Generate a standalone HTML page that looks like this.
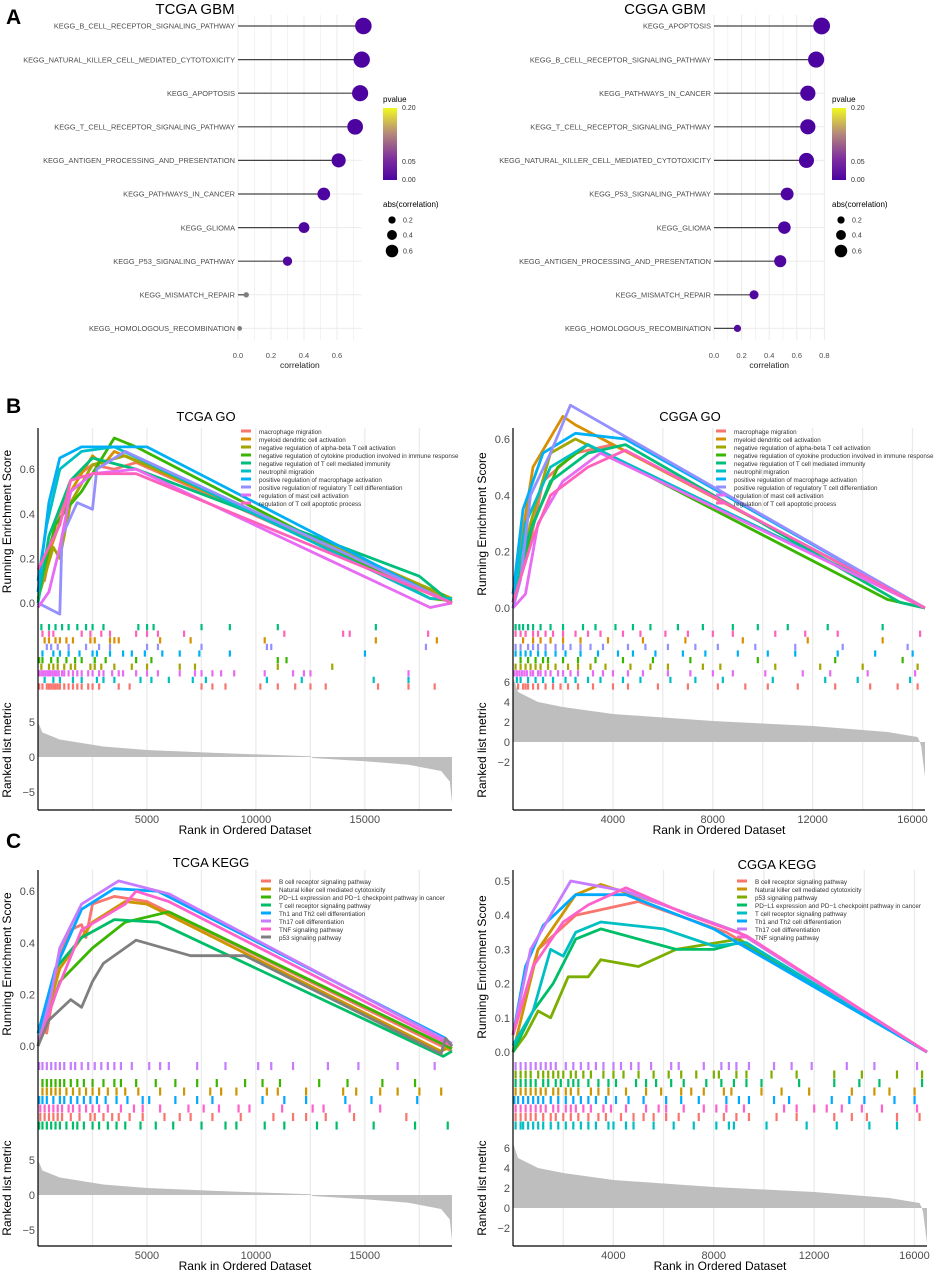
<!DOCTYPE html>
<html><head><meta charset="utf-8"><style>
body{margin:0;background:#fff}
svg{display:block;font-family:"Liberation Sans",Arial,sans-serif}
</style></head><body>
<svg id="fig" width="948" height="1273" viewBox="0 0 948 1273" xmlns="http://www.w3.org/2000/svg">
<text x="6" y="24" font-size="21" font-weight="bold">A</text>
<text x="6" y="413" font-size="21" font-weight="bold">B</text>
<text x="6" y="848" font-size="21" font-weight="bold">C</text>
</svg>
<script>
// ---------- Panel A data ----------
const aLeftNames=["KEGG_B_CELL_RECEPTOR_SIGNALING_PATHWAY","KEGG_NATURAL_KILLER_CELL_MEDIATED_CYTOTOXICITY","KEGG_APOPTOSIS","KEGG_T_CELL_RECEPTOR_SIGNALING_PATHWAY","KEGG_ANTIGEN_PROCESSING_AND_PRESENTATION","KEGG_PATHWAYS_IN_CANCER","KEGG_GLIOMA","KEGG_P53_SIGNALING_PATHWAY","KEGG_MISMATCH_REPAIR","KEGG_HOMOLOGOUS_RECOMBINATION"];
const aLeftCorr=[0.76,0.75,0.74,0.71,0.61,0.52,0.40,0.30,0.05,0.01];
const aLeftP=[0.001,0.001,0.001,0.001,0.001,0.002,0.003,0.005,null,null];
const aRightNames=["KEGG_APOPTOSIS","KEGG_B_CELL_RECEPTOR_SIGNALING_PATHWAY","KEGG_PATHWAYS_IN_CANCER","KEGG_T_CELL_RECEPTOR_SIGNALING_PATHWAY","KEGG_NATURAL_KILLER_CELL_MEDIATED_CYTOTOXICITY","KEGG_P53_SIGNALING_PATHWAY","KEGG_GLIOMA","KEGG_ANTIGEN_PROCESSING_AND_PRESENTATION","KEGG_MISMATCH_REPAIR","KEGG_HOMOLOGOUS_RECOMBINATION"];
const aRightCorr=[0.78,0.74,0.68,0.68,0.67,0.53,0.51,0.48,0.29,0.17];
const aRightP=[0.001,0.001,0.001,0.001,0.001,0.002,0.002,0.003,0.005,0.008];
const aLeftTicks=[0,0.2,0.4,0.6];
const aRightTicks=[0,0.2,0.4,0.6,0.8];

// ---------- GSEA data ----------
const rankTCGA=[0,200,1000,3000,5000,8000,12500,12600,15000,17000,18500,18900,19000];
const metricTCGA=[5,3.5,2.5,1.5,1,0.6,0.1,-0.15,-0.6,-1.1,-2,-3.5,-6.5];
const rankCGGA=[0,200,1000,2000,4000,8000,12000,15000,16200,16300,16350,16500];
const metricCGGA=[6.5,5,4,3.5,2.8,2.1,1.6,1,0.5,0,-0.5,-3.5];

const goNames=["macrophage migration","myeloid dendritic cell activation","negative regulation of alpha-beta T cell activation","negative regulation of cytokine production involved in immune response","negative regulation of T cell mediated immunity","neutrophil migration","positive regulation of macrophage activation","positive regulation of regulatory T cell differentiation","regulation of mast cell activation","regulation of T cell apoptotic process"];
const goColors=["#F8766D","#D89000","#A3A500","#39B600","#00BF7D","#00BFC4","#00B0F6","#9590FF","#E76BF3","#FF62BC"];
const bLeftES=[
[[0,0.12],[300,0.1],[800,0.35],[1500,0.55],[2500,0.62],[3500,0.6],[4500,0.63],[19000,0.0]],
[[0,0.05],[600,0.25],[1500,0.5],[2500,0.66],[3000,0.62],[3500,0.68],[19000,0.01]],
[[0,0.02],[700,0.25],[1000,0.2],[1500,0.45],[2500,0.62],[4000,0.66],[19000,0.02]],
[[0,0.05],[800,0.35],[1300,0.42],[2000,0.5],[3500,0.74],[4500,0.7],[18000,0.02],[19000,0.01]],
[[0,0.0],[500,0.3],[1500,0.55],[2500,0.65],[4500,0.6],[17500,0.12],[19000,0.0]],
[[0,0.1],[400,0.35],[1000,0.6],[2000,0.68],[3500,0.7],[18000,0.02],[19000,0.02]],
[[0,0.05],[500,0.45],[1000,0.65],[2000,0.7],[5000,0.7],[18500,0.02],[19000,0.0]],
[[0,0.0],[1000,-0.05],[1100,0.3],[1800,0.45],[2500,0.42],[2700,0.6],[4000,0.68],[19000,0.0]],
[[0,-0.02],[500,0.05],[1000,0.25],[1500,0.5],[2500,0.58],[4500,0.6],[18000,-0.02],[19000,0.0]],
[[0,0.15],[500,0.25],[1000,0.35],[1500,0.55],[2500,0.58],[4500,0.58],[19000,0.0]]];
const bRightES=[
[[0,0.05],[600,0.2],[1200,0.45],[2500,0.55],[4000,0.58],[16500,0]],
[[0,0.05],[800,0.5],[2000,0.68],[2500,0.65],[16500,0]],
[[0,0.02],[700,0.3],[1500,0.55],[2500,0.6],[16500,0]],
[[0,0.0],[800,0.3],[1800,0.5],[3000,0.58],[15000,0.03],[16500,0]],
[[0,0.0],[600,0.25],[1500,0.45],[3000,0.55],[4500,0.58],[15500,0.02],[16500,0]],
[[0,0.02],[500,0.3],[1500,0.5],[3000,0.58],[16500,0]],
[[0,0.05],[400,0.35],[1200,0.55],[2500,0.62],[4500,0.6],[16500,0]],
[[0,0.0],[300,0.1],[700,0.4],[1500,0.55],[2300,0.72],[16500,0]],
[[0,0.0],[500,0.05],[1000,0.3],[2000,0.45],[3500,0.55],[16500,0]],
[[0,0.02],[800,0.25],[1500,0.4],[3000,0.5],[4500,0.56],[16500,0]]];
const bLeftHitRows=[9,2,6,5,0,8,4,3,7,1];
const bLeftHits=[
[50,200,400,500,600,700,800,900,1000,1200,1400,1600,1800,2000,2300,2500,2800,3700,4200,7500,8000,8600,10200,11000,11800,12500,13200,15600,17000,18200],
[300,500,800,1000,1300,1600,2400,2600,3300,3500,3700,5600,7000,10400,15500,18300],
[150,500,700,900,1200,1500,1700,2400,2600,2900,3500,4300,5000,6500,7200,11000,13500],
[50,200,600,900,1300,1700,2000,2600,3100,4500,5200,11000,11400],
[150,500,800,1100,1400,1800,2200,2500,3000,4600,5000,5300,7500,8800,11000,15500],
[300,700,1000,1600,2000,2700,3000,3500,4700,5200,6000,7100,7700,10500,12100,15400,17000],
[200,700,1000,1400,1900,2500,2700,3300,3900,4300,4900,5700,6500,7400,8800,15000],
[400,600,900,1400,2200,2800,3300,5000,5500,7500,10500,10700,17800],
[50,150,250,350,450,550,650,750,850,950,1100,1200,1400,1600,1800,2000,2300,2500,2800,3000,3400,3700,3900,4500,5000,5500,6500,7200,7500,8000,8400,9000,10400,11700,12200,12500,17000],
[200,500,700,2000,2400,2900,3300,4500,5000,5500,6700,11300,14000,14300,17900]];
const bRightHitRows=[9,2,6,5,0,8,4,3,7,1];
const bRightHits=[
[50,200,400,500,600,800,1000,1300,1600,1900,2200,2600,3200,4000,4600,5800,7000,8200,9300,10200,11400,12900,14300,15400,16200],
[400,800,1100,1500,2000,2700,3800,5200,6900,9200,11800,14800],
[100,300,500,700,900,1100,1400,1700,2200,2600,3100,3700,4700,5500,6200,7600,8300,10500,12300,14000,16200],
[300,600,900,1200,1400,2000,2600,3300,4400,5600,7100,9800,12900,15600],
[100,250,400,600,800,1100,1500,2000,2800,3300,4100,4800,5500,6600,7600,8800,9800,11000,12600,14800],
[150,300,600,900,1200,1600,2100,2500,3000,3500,4400,5100,6300,7300,8400,10400,12500,13800,15900],
[100,300,500,700,1000,1300,1700,2100,2700,3400,4200,4800,5700,6800,7700,9000,10200,11300,13000,14500,16000],
[100,300,600,800,1000,1300,1700,2000,2300,2700,3100,3600,4600,5300,6200,7300,8200,9700,11300,13200,15800],
[50,150,250,350,450,550,700,800,1000,1100,1300,1500,1800,2000,2300,2600,3200,3600,4000,4600,5200,6200,7100,8000,8800,10100,11600,12700,14200,16100],
[100,300,500,800,1000,1300,1600,2000,2500,3000,3500,4400,5100,6100,7000,8000,8800,10500,11700,13000,16300]];

const cLeftNames=["B cell receptor signaling pathway","Natural killer cell mediated cytotoxicity","PD\u2212L1 expression and PD\u22121 checkpoint pathway in cancer","T cell receptor signaling pathway","Th1 and Th2 cell differentiation","Th17 cell differentiation","TNF signaling pathway","p53 signaling pathway"];
const cLeftColors=["#F8766D","#CD9600","#39B600","#00BE67","#00A9FF","#C77CFF","#FF61CC","#7F7F7F"];
const cLeftES=[
[[0,0.08],[400,0.05],[1000,0.35],[1500,0.45],[2000,0.47],[2200,0.42],[2500,0.55],[3500,0.58],[5000,0.56],[19000,-0.02]],
[[0,0.0],[1000,0.3],[2500,0.48],[4000,0.56],[5000,0.55],[18500,-0.02],[19000,0.0]],
[[0,0.0],[1000,0.25],[2500,0.38],[4000,0.48],[6000,0.52],[19000,-0.01]],
[[0,0.0],[800,0.3],[2000,0.42],[3500,0.49],[5500,0.48],[18600,-0.04],[19000,-0.02]],
[[0,0.05],[800,0.3],[2000,0.53],[3500,0.61],[5500,0.6],[18700,0.03],[19000,0.0]],
[[0,0.0],[600,0.2],[1000,0.38],[2000,0.55],[3700,0.64],[6000,0.59],[19000,0.01]],
[[0,0.0],[800,0.2],[2000,0.45],[4000,0.55],[4500,0.6],[6000,0.56],[19000,0.0]],
[[0,0.0],[500,0.1],[1500,0.18],[2000,0.15],[2500,0.25],[3000,0.32],[4500,0.41],[7000,0.35],[9500,0.35],[18500,-0.03],[18700,0.03],[19000,0.0]]];
const cLeftHitRows=[6,3,2,7,4,0,5,1];
const cLeftHits=[
[100,300,500,700,900,1100,1500,1900,2400,2600,3000,3400,3700,4200,4800,5800,6500,7000,8000,9300,10800,11700,12300,13200,14500,16900],
[200,400,600,800,1000,1300,1600,1900,2200,2500,2800,3200,3600,4000,4600,5600,6700,7900,8400,9100,10500,11000,12300,14000,14600,15700,16500,17500,18500],
[200,400,600,800,1000,1200,1500,1800,2100,2500,3000,3500,3800,4500,5400,6300,7300,8200,9500,10300,11100,12900,14200,15800,17300],
[50,200,400,600,800,1000,1300,1600,1800,2100,2500,2800,3200,3600,4000,4700,5400,6200,7500,8600,9100,10400,11300,12800,13700,15400,17300,18800],
[50,200,400,700,1000,1200,1500,1800,2100,2400,2700,3100,3600,4100,4800,5100,6300,7300,8000,10300,11300,12300,14100,15300,17400],
[50,200,400,600,800,1000,1200,1500,1700,2000,2300,2600,2900,3200,3500,3800,4300,5100,5600,6000,7300,8600,10100,10700,11700,13300,14700,16500,18200],
[100,300,500,700,900,1100,1400,1600,1900,2200,2500,2800,3200,3800,4400,4800,5600,6900,7600,8300,9200,9700,11200,12600,13100,14300,15700],
[]];
const cRightNames=["B cell receptor signaling pathway","Natural killer cell mediated cytotoxicity","p53 signaling pathway","PD\u2212L1 expression and PD\u22121 checkpoint pathway in cancer","T cell receptor signaling pathway","Th1 and Th2 cell differentiation","Th17 cell differentiation","TNF signaling pathway"];
const cRightColors=["#F8766D","#CD9600","#7CAE00","#00BE67","#00BFC4","#00A9FF","#C77CFF","#FF61CC"];
const cRightES=[
[[0,0.05],[1000,0.3],[2500,0.4],[5000,0.44],[8500,0.35],[16500,0]],
[[0,0.0],[1000,0.3],[2500,0.46],[3500,0.49],[6000,0.43],[9000,0.35],[16500,0]],
[[0,0.0],[500,0.05],[1000,0.12],[1500,0.1],[2200,0.22],[3000,0.22],[3500,0.27],[5000,0.25],[6500,0.3],[9000,0.33],[16500,0]],
[[0,0.0],[800,0.12],[1600,0.2],[2500,0.33],[3500,0.36],[6500,0.3],[8000,0.3],[9000,0.32],[16500,0]],
[[0,0.02],[800,0.12],[1500,0.3],[2000,0.28],[2500,0.35],[3500,0.38],[6000,0.36],[8000,0.31],[9300,0.32],[16500,0]],
[[0,0.05],[500,0.25],[1200,0.37],[2500,0.46],[4500,0.46],[8000,0.36],[16500,0]],
[[0,0.05],[700,0.3],[1500,0.4],[2300,0.5],[4500,0.47],[9000,0.35],[16500,0]],
[[0,0.05],[800,0.25],[2000,0.38],[3000,0.43],[4500,0.48],[7000,0.4],[9300,0.34],[16500,0]]];
const cRightHitRows=[6,3,1,2,7,4,0,5];
const cRightHits=[
[100,300,500,700,900,1200,1500,1700,2000,2300,2600,3000,3400,3700,4300,4800,5200,5600,6100,6600,7400,8400,8900,9400,10500,11300,12800,13500,14100,15300,16200],
[100,300,500,700,900,1100,1300,1600,1800,2100,2300,2600,3100,3400,3800,4500,5300,5900,6700,7100,7600,8400,8700,9900,10700,11800,13500,14400,15000,16000],
[100,300,500,700,1000,1200,1400,1600,1800,2000,2300,2500,2800,3100,3600,4000,4400,5000,5600,6200,6700,7300,8000,8200,8900,9300,10300,11300,12800,13900,15300,16300],
[100,300,500,700,900,1200,1400,1700,1900,2200,2400,2600,3000,3400,3800,4100,4900,5300,5700,6300,6800,7700,8300,8800,9300,9900,11400,12800,13800,14600,16300],
[100,300,400,600,800,1000,1200,1500,1800,2100,2400,2700,3000,3300,3800,4000,4500,4800,5600,6400,7200,8100,8600,8800,10100,11700,12900,14200,15300],
[50,200,400,600,800,1000,1200,1500,1800,2100,2400,2700,3000,3300,3700,4100,4600,5200,6100,6700,7400,8500,9000,9400,10400,11000,12700,13400,14000,15200,16000],
[100,300,500,700,900,1100,1300,1500,1700,2100,2400,2700,3000,3300,3600,4000,4300,4700,5000,5500,6300,6600,7600,8300,8600,8900,9400,10400,11100,11900,13300,14400,16100],
[100,300,500,700,900,1100,1300,1600,1800,2100,2300,2500,2800,3100,3600,3900,4500,5300,5800,6100,6800,7600,8100,8500,9200,10800,11300,12000,12500,13100,13900,14700,16100]];

// ---------- helpers ----------
const svg=document.getElementById('fig');
const NS="http://www.w3.org/2000/svg";
function mk(tag,attrs,txt){const e=document.createElementNS(NS,tag);for(const k in attrs)e.setAttribute(k,attrs[k]);if(txt!==undefined)e.textContent=txt;svg.appendChild(e);return e;}
function pcolor(p){if(p===null)return "#7f7f7f";const t=Math.min(p/0.2,1);const a=[76,2,161],b=[240,249,33];return `rgb(${Math.round(a[0]+(b[0]-a[0])*t)},${Math.round(a[1]+(b[1]-a[1])*t)},${Math.round(a[2]+(b[2]-a[2])*t)})`;}

function lollipop(cfg,names,corr,pv,ticks){
  const xs=v=>cfg.x0+v*cfg.k;
  const rowY=i=>26+i*33.6;
  const g=mk('text',{x:cfg.titleX,y:14,'font-size':15,'text-anchor':'middle'},cfg.title);
  
  for(let v=0;v<=cfg.maxv+0.001;v+=0.1){const l=mk('line',{x1:xs(v),x2:xs(v),y1:15,y2:340,stroke:'#ebebeb','stroke-width':Math.round(v*10)%2?0.6:1});}
  names.forEach((n,i)=>{const y=rowY(i);
    const gl=mk('line',{x1:cfg.x0,x2:xs(cfg.maxv),y1:y,y2:y,stroke:'#ebebeb','stroke-width':1});
    const t=mk('text',{x:cfg.x0-3,y:y+2.7,'font-size':7.4,fill:'#4d4d4d','text-anchor':'end'},n);
    const s=mk('line',{x1:cfg.x0,x2:xs(corr[i]),y1:y,y2:y,stroke:'#444','stroke-width':1.2});
    const c=mk('circle',{cx:xs(corr[i]),cy:y,r:2.3+7.8*corr[i],fill:pcolor(pv[i])});
  });
  ticks.forEach(v=>{const t=mk('text',{x:xs(v),y:358,'font-size':7.5,fill:'#4d4d4d','text-anchor':'middle'},v.toFixed(1));});
  const xl=mk('text',{x:xs(cfg.maxv/2),y:368,'font-size':8.5,fill:'#222','text-anchor':'middle'},'correlation');
  const L=cfg.legX;
  let t=mk('text',{x:L,y:102,'font-size':8},'pvalue');
  const gid='grad'+cfg.id;const defs=mk('defs',{});const lg=document.createElementNS(NS,'linearGradient');lg.setAttribute('id',gid);lg.setAttribute('x1','0');lg.setAttribute('y1','1');lg.setAttribute('x2','0');lg.setAttribute('y2','0');
  [[0,'#4c02a1'],[0.3,'#7e2f9e'],[0.65,'#b58a7a'],[1,'#f0f921']].forEach(s=>{const st=document.createElementNS(NS,'stop');st.setAttribute('offset',s[0]);st.setAttribute('stop-color',s[1]);lg.appendChild(st);});defs.appendChild(lg);
  const cb=mk('rect',{x:L,y:108,width:14,height:72,fill:`url(#${gid})`});
  [['0.20',110],['0.05',164],['0.00',182]].forEach(a=>{const tt=mk('text',{x:L+19,y:a[1],'font-size':7,fill:'#333'},a[0]);});
  t=mk('text',{x:L,y:207,'font-size':8},'abs(correlation)');
  [[0.2,220],[0.4,235],[0.6,251]].forEach(a=>{const c=mk('circle',{cx:L+9,cy:a[1],r:2.3+7.8*a[0]*0.85,fill:'#000'});const tt=mk('text',{x:L+20,y:a[1]+2.5,'font-size':7,fill:'#333'},a[0].toFixed(1));});
}
lollipop({id:'L',x0:238,k:165,maxv:0.75,title:'TCGA GBM',titleX:195,legX:383},aLeftNames,aLeftCorr,aLeftP,aLeftTicks);
lollipop({id:'R',x0:714,k:138,maxv:0.8,title:'CGGA GBM',titleX:665,legX:832},aRightNames,aRightCorr,aRightP,aRightTicks);

function gsea(c,es,colors,names,hits,hitRows,nRows,rankX,metric){
  const xs=r=>c.x0+r*(c.x1-c.x0)/c.N;
  const ey=v=>c.es0-v*c.esk;
  const my=v=>c.m0-v*c.mk;
  for(let r=c.grid;r<c.N;r+=c.grid){const l=mk('line',{x1:xs(r),x2:xs(r),y1:c.top,y2:c.bottom,stroke:'#ebebeb','stroke-width':1.3});}
  let t=mk('text',{x:c.titleX,y:c.titleY,'font-size':13,'text-anchor':'middle'},c.title);
  es.forEach((s,i)=>{const p=mk('polyline',{points:s.map(d=>xs(d[0]).toFixed(1)+','+ey(d[1]).toFixed(1)).join(' '),fill:'none',stroke:colors[i],'stroke-width':2.8,'stroke-linejoin':'round'});});
  names.forEach((n,i)=>{const y=c.legY+i*c.legDy;const r=mk('rect',{x:c.legX,y:y-2.5,width:10,height:3,fill:colors[i]});const tt=mk('text',{x:c.legX+18,y:y+2,'font-size':6.3,fill:'#333'},n);});
  c.esTicks.forEach(v=>{const tt=mk('text',{x:c.x0-3,y:ey(v)+4,'font-size':11,fill:'#4d4d4d','text-anchor':'end'},v.toFixed(1));});
  const rh=(c.hitBottom-c.hitTop)/nRows;
  hits.forEach((h,i)=>{const row=hitRows[i];h.forEach(r=>{const l=mk('rect',{x:xs(r)-1,y:c.hitTop+row*rh,width:2.2,height:rh*0.95,fill:colors[i]});});});
  let d=`M${xs(rankX[0])},${my(0)} `+rankX.map((r,i)=>`L${xs(r).toFixed(1)},${my(metric[i]).toFixed(1)}`).join(' ')+` L${xs(rankX[rankX.length-1])},${my(0)} Z`;
  const a=mk('path',{d:d,fill:'#bebebe'});
  c.mTicks.forEach(v=>{const tt=mk('text',{x:c.x0-3,y:my(v)+4,'font-size':11,fill:'#4d4d4d','text-anchor':'end'},v<0?'\u2212'+(-v):String(v));});
  let l=mk('line',{x1:c.x0,x2:c.x0,y1:c.top,y2:c.bottom,stroke:'#000','stroke-width':1.2});
  l=mk('line',{x1:c.x0,x2:c.x1,y1:c.bottom,y2:c.bottom,stroke:'#000','stroke-width':1.2});
  c.xTicks.forEach(v=>{const tt=mk('text',{x:xs(v),y:c.bottom+13,'font-size':11,fill:'#4d4d4d','text-anchor':'middle'},String(v));});
  t=mk('text',{x:(c.x0+c.x1)/2,y:c.bottom+24,'font-size':12,'text-anchor':'middle'},'Rank in Ordered Dataset');
  const ym=(c.top+c.es0)/2+6;
  t=mk('text',{x:0,y:0,'font-size':12,'text-anchor':'middle',transform:`translate(${c.x0-27},${ym}) rotate(-90)`},'Running Enrichment Score');
  const ym2=(c.hitBottom+c.bottom)/2;
  t=mk('text',{x:0,y:0,'font-size':12,'text-anchor':'middle',transform:`translate(${c.x0-27},${ym2}) rotate(-90)`},'Ranked list metric');
}
gsea({x0:38,x1:452,N:19000,grid:2500,top:428,bottom:810,es0:603,esk:223,esTicks:[0,0.2,0.4,0.6],hitTop:624,hitBottom:690,m0:757,mk:7,mTicks:[-5,0,5],xTicks:[5000,10000,15000],title:'TCGA GO',titleX:206,titleY:421,legX:241,legY:432,legDy:8},bLeftES,goColors,goNames,bLeftHits,bLeftHitRows,10,rankTCGA,metricTCGA);
gsea({x0:513,x1:925,N:16500,grid:2000,top:428,bottom:810,es0:608,esk:281.7,esTicks:[0,0.2,0.4,0.6],hitTop:624,hitBottom:690,m0:742,mk:10,mTicks:[-2,0,2,4,6],xTicks:[4000,8000,12000,16000],title:'CGGA GO',titleX:690,titleY:421,legX:716,legY:432,legDy:8},bRightES,goColors,goNames,bRightHits,bRightHitRows,10,rankCGGA,metricCGGA);
gsea({x0:38,x1:452,N:19000,grid:2500,top:870,bottom:1246,es0:1046,esk:258,esTicks:[0,0.2,0.4,0.6],hitTop:1062,hitBottom:1130,m0:1195,mk:7,mTicks:[-5,0,5],xTicks:[5000,10000,15000],title:'TCGA KEGG',titleX:211,titleY:867,legX:261,legY:882,legDy:8},cLeftES,cLeftColors,cLeftNames,cLeftHits,cLeftHitRows,8,rankTCGA,metricTCGA);
gsea({x0:513,x1:927,N:16500,grid:2000,top:870,bottom:1246,es0:1052,esk:342,esTicks:[0,0.1,0.2,0.3,0.4,0.5],hitTop:1062,hitBottom:1130,m0:1208,mk:10,mTicks:[-2,0,2,4,6],xTicks:[4000,8000,12000,16000],title:'CGGA KEGG',titleX:777,titleY:869,legX:737,legY:882,legDy:8},cRightES,cRightColors,cRightNames,cRightHits,cRightHitRows,8,rankCGGA,metricCGGA);
</script>
</body></html>
